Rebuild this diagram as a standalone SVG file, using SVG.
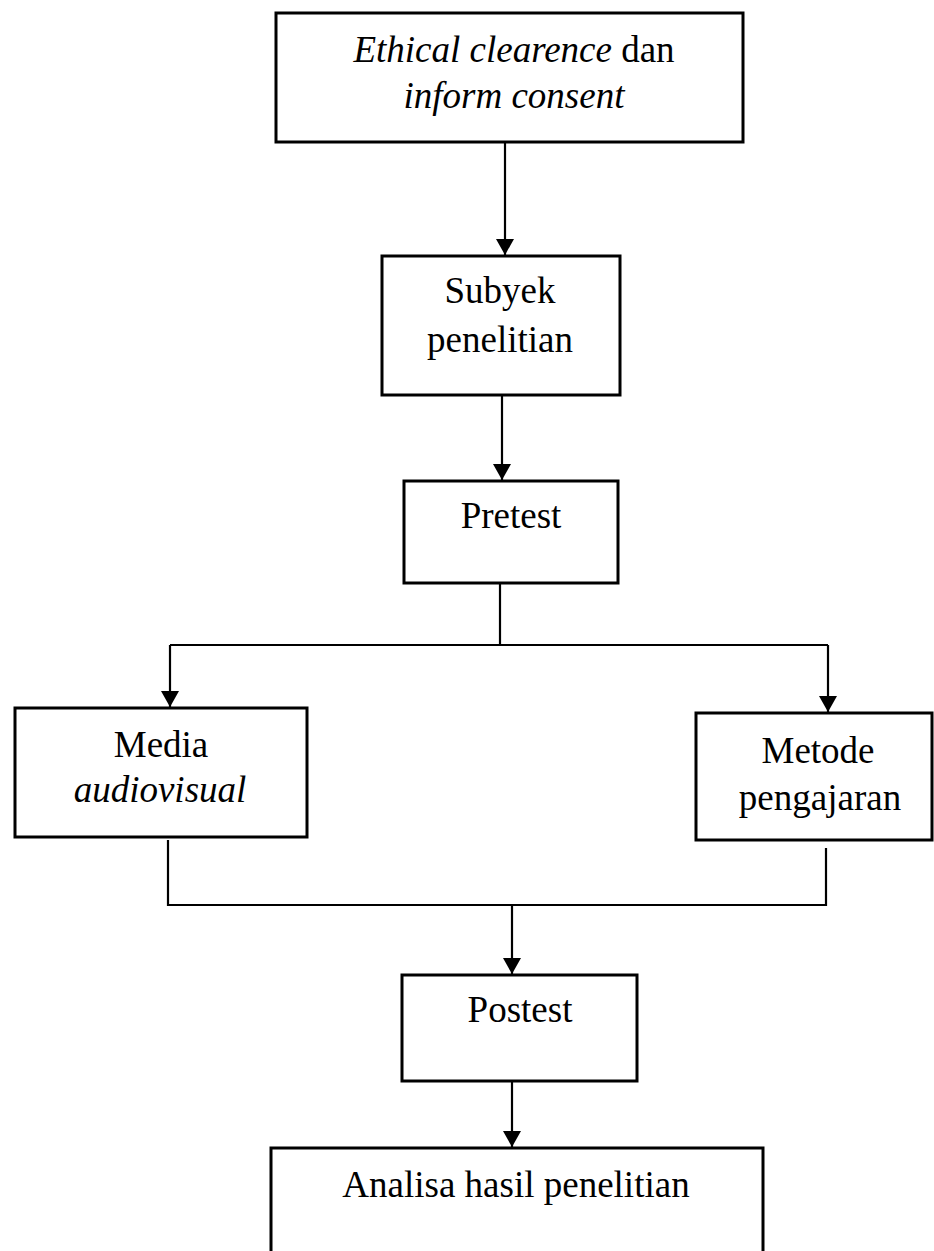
<svg xmlns="http://www.w3.org/2000/svg" width="934" height="1251" viewBox="0 0 934 1251">
<style>
.box{fill:#fff;stroke:#000;stroke-width:3}
.ln{fill:none;stroke:#000;stroke-width:2.2}
.t{font-family:"Liberation Serif","Times New Roman",serif;font-size:37px;fill:#000;text-anchor:middle}
.i{font-style:italic}
</style>
<defs>
<marker id="ah" markerWidth="16" markerHeight="18" refX="16" refY="9" orient="auto" markerUnits="userSpaceOnUse" viewBox="0 0 16 18">
<path d="M0,0 L16,9 L0,18 Z" fill="#000"/>
</marker>
</defs>
<rect width="934" height="1251" fill="#fff"/>
<g id="connectors">
<line class="ln" x1="505" y1="142" x2="505" y2="255" marker-end="url(#ah)"/>
<line class="ln" x1="502" y1="395" x2="502" y2="480" marker-end="url(#ah)"/>
<polyline class="ln" points="500,583 500,645"/>
<polyline class="ln" points="170,645 828,645"/>
<line class="ln" x1="170" y1="645" x2="170" y2="707" marker-end="url(#ah)"/>
<line class="ln" x1="828" y1="645" x2="828" y2="712" marker-end="url(#ah)"/>
<polyline class="ln" points="168,840 168,905 826,905 826,848"/>
<line class="ln" x1="512" y1="905" x2="512" y2="974" marker-end="url(#ah)"/>
<line class="ln" x1="512" y1="1081" x2="512" y2="1147" marker-end="url(#ah)"/>
</g>
<g id="n1">
<rect class="box" x="276" y="13" width="467" height="129"/>
<text class="t" x="514" y="62"><tspan class="i">Ethical clearence</tspan> dan</text>
<text class="t i" x="514" y="108">inform consent</text>
</g>
<g id="n2">
<rect class="box" x="382" y="256" width="238" height="139"/>
<text class="t" x="500" y="303">Subyek</text>
<text class="t" x="500" y="352">penelitian</text>
</g>
<g id="n3">
<rect class="box" x="404" y="481" width="214" height="102"/>
<text class="t" x="511" y="528">Pretest</text>
</g>
<g id="n4">
<rect class="box" x="15" y="708" width="292" height="129"/>
<text class="t" x="161" y="757">Media</text>
<text class="t i" x="160" y="802">audiovisual</text>
</g>
<g id="n5">
<rect class="box" x="696" y="713" width="236" height="127"/>
<text class="t" x="818" y="763">Metode</text>
<text class="t" x="820" y="810">pengajaran</text>
</g>
<g id="n6">
<rect class="box" x="402" y="975" width="235" height="106"/>
<text class="t" x="520" y="1022">Postest</text>
</g>
<g id="n7">
<rect class="box" x="271" y="1148" width="492" height="120"/>
<text class="t" x="516" y="1197">Analisa hasil penelitian</text>
</g>
</svg>
